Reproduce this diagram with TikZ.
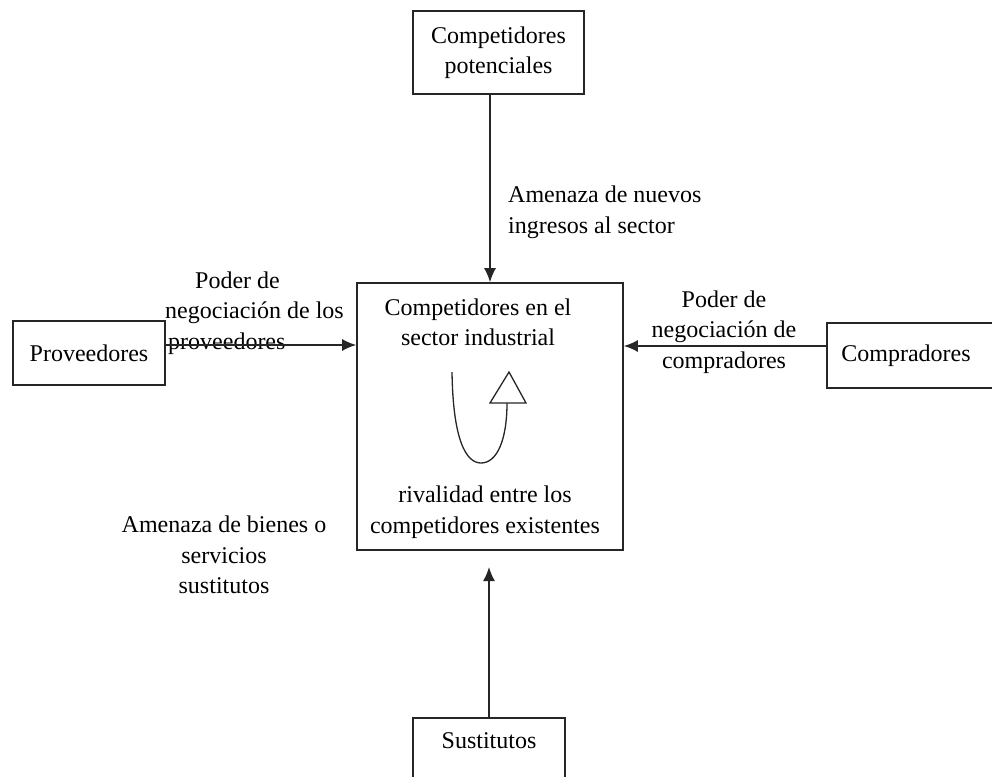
\documentclass[tikz,border=0pt]{standalone}
\usepackage{fontspec}
\setmainfont{Liberation Serif}
\usetikzlibrary{arrows.meta}
\begin{document}
\begin{tikzpicture}[x=1pt,y=-1pt,
  every node/.style={font=\fontsize{24}{30.5}\selectfont, text=black},
  boxnode/.style={draw=black!85, line width=1.6pt, rectangle, inner sep=0pt},
  lbl/.style={inner sep=0pt, align=center},
  conn/.style={draw=black!85, line width=1.6pt, -{Latex[length=14pt,width=12pt]}},
  plain/.style={draw=black!85, line width=1.6pt}]
\useasboundingbox (0,0) rectangle (992,776);
% boxes
\node[boxnode, minimum width=171pt, minimum height=83pt, align=center] (top) at (498.5,52.5) {Competidores\\potenciales};
\node[boxnode, minimum width=266pt, minimum height=267pt] (center) at (490,416.5) {};
\node[boxnode, minimum width=152pt, minimum height=64pt] (prov) at (89,353) {Proveedores};
\node[boxnode, minimum width=173pt, minimum height=65pt] (compr) at (913.5,355.5) {\hspace*{-15pt}Compradores};
\node[boxnode, anchor=north, minimum width=152pt, inner xsep=0pt, inner ysep=6pt, text height=24.5pt, text depth=40pt] (sust) at (489,717) {Sustitutos};
% texts inside centre box
\node[lbl] (t1) at (478,322.5) {Competidores en el\\sector industrial};
\node[lbl] (t2) at (485,512) {rivalidad entre los\\competidores existentes};
% labels
\node[lbl, anchor=west, align=left] (lprov) at (165,313) {\hspace*{30pt}Poder de\\negociación de los\\\hspace*{3pt}proveedores};
\node[lbl] (lcompr) at (724,332) {Poder de\\negociación de\\compradores};
\node[lbl, anchor=west, align=left] (ltop) at (508,212.5) {Amenaza de nuevos\\ingresos al sector};
\node[lbl] (lsust) at (224,555) {Amenaza de bienes o\\servicios\\sustitutos};
% connectors
\draw[conn] (center.north |- top.south) -- (center.north);
\coordinate (pa) at ([yshift=8pt]prov.east);
\draw[conn] (pa) -- (pa -| center.west);
\coordinate (ca) at ([yshift=9.5pt]compr.west);
\draw[conn] (ca) -- (ca -| center.east);
\coordinate (stip) at (489,567);
\draw[conn] (sust.north) -- (stip);
% rivalry loop arrow
\draw[plain, line width=1.3pt] (452,372) .. controls (453,440) and (466,463) .. (481,463) .. controls (497,463) and (507,440) .. (507,403);
\draw[plain, line width=1.3pt, fill=white] (490,403) -- (509,372) -- (526,403) -- cycle;
\end{tikzpicture}
\end{document}
